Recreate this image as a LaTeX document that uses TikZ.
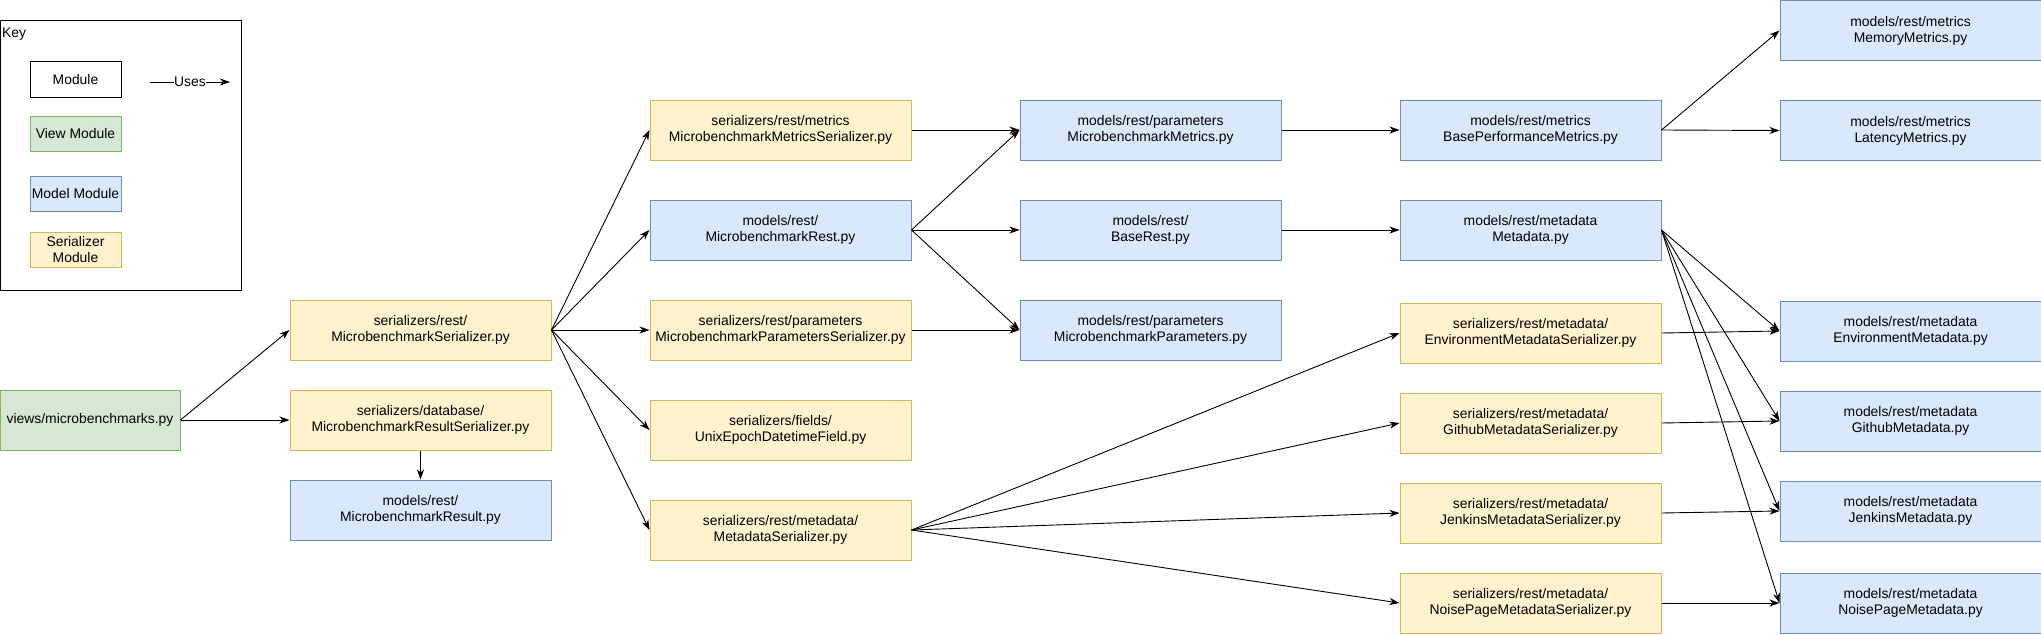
\documentclass[tikz,border=0pt]{standalone}
\usepackage{fontspec}
\setmainfont{Liberation Sans}
\usetikzlibrary{arrows.meta}
\definecolor{serfill}{HTML}{FFF2CC}
\definecolor{serdraw}{HTML}{D6B656}
\definecolor{modfill}{HTML}{DAE8FC}
\definecolor{moddraw}{HTML}{6C8EBF}
\definecolor{viewfill}{HTML}{D5E8D4}
\definecolor{viewdraw}{HTML}{82B366}
\begin{document}
\begin{tikzpicture}[x=1pt,y=1pt,
  font=\fontsize{13.9}{16}\selectfont,
  box/.style={rectangle,draw,line width=1pt,minimum width=261pt,minimum height=60pt,align=center,inner sep=2pt},
  serbox/.style={box,fill=serfill,draw=serdraw},
  modbox/.style={box,fill=modfill,draw=moddraw},
  viewbox/.style={box,fill=viewfill,draw=viewdraw},
  keybox/.style={rectangle,draw,line width=1pt,minimum width=91pt,minimum height=35pt,align=center,inner sep=1pt},
  uses/.style={line width=0.9pt,-{Stealth[length=10pt,width=7pt,inset=3pt]}}
]
\useasboundingbox (0,0) rectangle (2041,-634);
% Key
\node[rectangle,draw,line width=1pt,minimum width=241pt,minimum height=270pt,anchor=north west,inner sep=0pt] (key) at (0,-20) {};
\node[anchor=north west,inner sep=0pt] (keylabel) at (2,-28) {Key};
\node[keybox,draw=black,fill=white] (kmod) at (75.5,-79.5) {Module};
\node[keybox,fill=viewfill,draw=viewdraw] (kview) at (75.5,-133.5) {View Module};
\node[keybox,fill=modfill,draw=moddraw] (kmodel) at (75.5,-193.5) {Model Module};
\node[keybox,fill=serfill,draw=serdraw] (kser) at (75.5,-250) {Serializer\\Module};
\coordinate (ua) at (150,-82);
\coordinate (ub) at (230,-82);
\draw[uses] (ua) -- node[fill=white,inner sep=0.5pt] {Uses} (ub);

% Column 1
\node[viewbox,minimum width=180pt] (views) at (90,-420) {views/microbenchmarks.py};
% Column 2
\node[serbox] (mbser) at (420.5,-330) {serializers/rest/\\MicrobenchmarkSerializer.py};
\node[serbox] (resser) at (420.5,-420) {serializers/database/\\MicrobenchmarkResultSerializer.py};
\node[modbox] (mbresult) at (420.5,-510) {models/rest/\\MicrobenchmarkResult.py};
% Column 3
\node[serbox] (metser) at (780.5,-130) {serializers/rest/metrics\\MicrobenchmarkMetricsSerializer.py};
\node[modbox] (mbrest) at (780.5,-230) {models/rest/\\MicrobenchmarkRest.py};
\node[serbox] (parser) at (780.5,-330) {serializers/rest/parameters\\MicrobenchmarkParametersSerializer.py};
\node[serbox] (unix) at (780.5,-430) {serializers/fields/\\UnixEpochDatetimeField.py};
\node[serbox] (metaser) at (780.5,-530) {serializers/rest/metadata/\\MetadataSerializer.py};
% Column 4
\node[modbox] (mbmetrics) at (1150.5,-130) {models/rest/parameters\\MicrobenchmarkMetrics.py};
\node[modbox] (baserest) at (1150.5,-230) {models/rest/\\BaseRest.py};
\node[modbox] (mbparams) at (1150.5,-330) {models/rest/parameters\\MicrobenchmarkParameters.py};
% Column 5
\node[modbox] (baseperf) at (1530.5,-130) {models/rest/metrics\\BasePerformanceMetrics.py};
\node[modbox] (metadata) at (1530.5,-230) {models/rest/metadata\\Metadata.py};
\node[serbox] (envser) at (1530.5,-333) {serializers/rest/metadata/\\EnvironmentMetadataSerializer.py};
\node[serbox] (ghser) at (1530.5,-423) {serializers/rest/metadata/\\GithubMetadataSerializer.py};
\node[serbox] (jenser) at (1530.5,-513) {serializers/rest/metadata/\\JenkinsMetadataSerializer.py};
\node[serbox] (npser) at (1530.5,-603) {serializers/rest/metadata/\\NoisePageMetadataSerializer.py};
% Column 6
\node[modbox] (memory) at (1910.5,-30.5) {models/rest/metrics\\MemoryMetrics.py};
\node[modbox] (latency) at (1910.5,-130.5) {models/rest/metrics\\LatencyMetrics.py};
\node[modbox] (envmeta) at (1910.5,-331) {models/rest/metadata\\EnvironmentMetadata.py};
\node[modbox] (ghmeta) at (1910.5,-421) {models/rest/metadata\\GithubMetadata.py};
\node[modbox] (jenmeta) at (1910.5,-511) {models/rest/metadata\\JenkinsMetadata.py};
\node[modbox] (npmeta) at (1910.5,-603) {models/rest/metadata\\NoisePageMetadata.py};

% Connectors
\draw[uses] (views.east) -- (mbser.west);
\draw[uses] (views.east) -- (resser.west);
\draw[uses] (resser.south) -- (mbresult.north);
\foreach \t in {metser,mbrest,parser,unix,metaser}
  \draw[uses] (mbser.east) -- (\t.west);
\draw[uses] (metser.east) -- (mbmetrics.west);
\draw[uses] (mbrest.east) -- (mbmetrics.west);
\draw[uses] (mbrest.east) -- (baserest.west);
\draw[uses] (mbrest.east) -- (mbparams.west);
\draw[uses] (parser.east) -- (mbparams.west);
\foreach \t in {envser,ghser,jenser,npser}
  \draw[uses] (metaser.east) -- (\t.west);
\draw[uses] (mbmetrics.east) -- (baseperf.west);
\draw[uses] (baserest.east) -- (metadata.west);
\draw[uses] (baseperf.east) -- (memory.west);
\draw[uses] (baseperf.east) -- (latency.west);
\foreach \t in {envmeta,ghmeta,jenmeta,npmeta}
  \draw[uses] (metadata.east) -- (\t.west);
\draw[uses] (envser.east) -- (envmeta.west);
\draw[uses] (ghser.east) -- (ghmeta.west);
\draw[uses] (jenser.east) -- (jenmeta.west);
\draw[uses] (npser.east) -- (npmeta.west);
\end{tikzpicture}
\end{document}
